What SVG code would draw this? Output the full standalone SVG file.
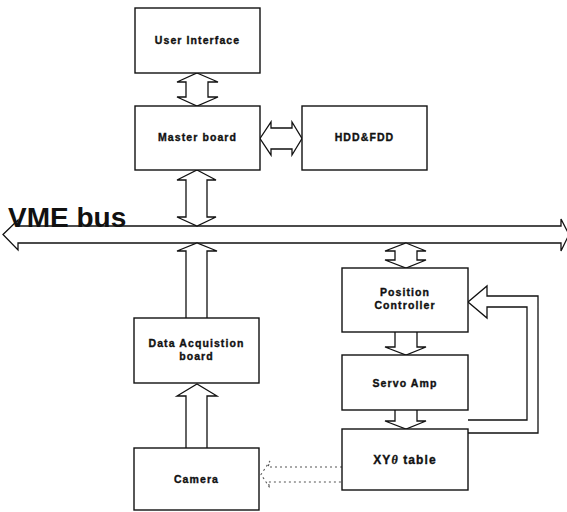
<svg xmlns="http://www.w3.org/2000/svg" width="567" height="512" viewBox="0 0 567 512">
  <style>
    .box { fill: #fff; stroke: #111; stroke-width: 1.4; }
    .arr { fill: #fff; stroke: #111; stroke-width: 1.3; stroke-linejoin: miter; }
    .dot { fill: none; stroke: #555; stroke-width: 1.1; stroke-dasharray: 2 3; }
    .lbl { font-family: "Liberation Sans", Arial, sans-serif; font-weight: bold; font-size: 10.5px; letter-spacing: 1.1px; fill: #111; stroke: #111; stroke-width: 0.35; text-anchor: middle; }
    .bus { font-family: "Liberation Sans", Arial, sans-serif; font-weight: bold; font-size: 28px; fill: #111; }
  </style>
  <rect width="567" height="512" fill="#fff"/>

  <!-- connectors -->
  <g id="connectors">
    <!-- VME bus -->
    <polygon class="arr" points="3,234.5 18,220 18,226 561,226 561,219 569,234.5 561,251 561,243 18,243 18,250"/>
    <!-- User Interface <-> Master board -->
    <polygon class="arr" points="197,73 218,82 208,82 208,97 218,97 197,106 177,97 186,97 186,82 177,82"/>
    <!-- Master board <-> HDD&FDD -->
    <polygon class="arr" points="260,138.5 271,122 271,128 292,128 292,122 302,138.5 292,155 292,149 271,149 271,155"/>
    <!-- Master board <-> bus -->
    <polygon class="arr" points="197,170 216,180 207,180 207,217 216,217 197,226 177,217 186,217 186,180 177,180"/>
    <!-- Data Acquisition board -> bus -->
    <path class="arr" d="M186,318 L186,251 L177,251 L197,243 L217,251 L207,251 L207,318"/>
    <!-- Camera -> Data Acquisition board -->
    <path class="arr" d="M186,448 L186,396 L177,396 L197,384 L217,396 L207,396 L207,448"/>
    <!-- bus <-> Position Controller -->
    <polygon class="arr" points="406,243 426,251 417,251 417,260 426,260 406,268 385,260 395,260 395,251 385,251"/>
    <!-- Position Controller -> Servo Amp -->
    <path class="arr" d="M395,332 L395,347 L385,347 L406,355 L426,347 L417,347 L417,332"/>
    <!-- Servo Amp -> XY table -->
    <path class="arr" d="M395,410 L395,421 L385,421 L406,429 L426,421 L417,421 L417,410"/>
    <!-- XY table feedback -> Position Controller -->
    <path class="arr" d="M468,433 L538,433 L538,296 L487,296 L487,286 L468,302 L487,318 L487,307 L527,307 L527,420 L468,420"/>
    <!-- XY table -> Camera (dotted) -->
    <path class="dot" d="M342,467 L268,467 L270,461 L261,474.5 L270,488 L268,482 L342,482"/>
  </g>

  <text class="bus" x="8" y="227">VME bus</text>

  <g id="user-interface">
    <rect class="box" x="135" y="8" width="125" height="65"/>
    <text class="lbl" x="197.5" y="44">User Interface</text>
  </g>
  <g id="master-board">
    <rect class="box" x="135" y="106" width="125" height="64"/>
    <text class="lbl" x="197.5" y="141">Master board</text>
  </g>
  <g id="hdd-fdd">
    <rect class="box" x="302" y="106" width="125" height="64"/>
    <text class="lbl" x="364.5" y="141">HDD&amp;FDD</text>
  </g>
  <g id="data-acquisition">
    <rect class="box" x="134" y="318" width="125" height="65"/>
    <text class="lbl" x="196.5" y="347">Data  Acquistion</text>
    <text class="lbl" x="196.5" y="360">board</text>
  </g>
  <g id="camera">
    <rect class="box" x="134" y="448" width="125" height="62"/>
    <text class="lbl" x="196.5" y="483">Camera</text>
  </g>
  <g id="position-controller">
    <rect class="box" x="342" y="268" width="126" height="64"/>
    <text class="lbl" x="405" y="296">Position</text>
    <text class="lbl" x="405" y="309">Controller</text>
  </g>
  <g id="servo-amp">
    <rect class="box" x="342" y="355" width="126" height="55"/>
    <text class="lbl" x="405" y="387">Servo  Amp</text>
  </g>
  <g id="xy-table">
    <rect class="box" x="342" y="429" width="126" height="61"/>
    <text class="lbl" x="405" y="464" style="font-size:12px">XY<tspan font-style="italic" font-family="'Liberation Serif', serif">θ</tspan> table</text>
  </g>
</svg>
